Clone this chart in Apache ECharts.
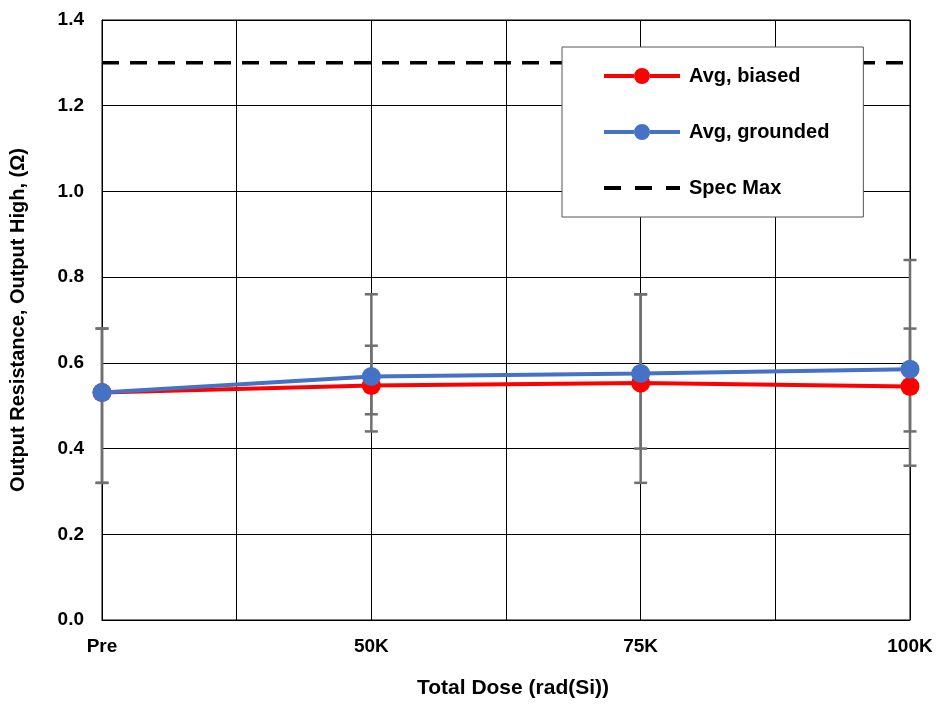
<!DOCTYPE html>
<html>
<head>
<meta charset="utf-8">
<script src="https://cdn.jsdelivr.net/npm/echarts@6/dist/echarts.min.js"></script>
<style>html,body{margin:0;padding:0;background:#fff}#c{width:937px;height:704px}</style>
</head>
<body>
<div id="c"></div>
<script>
const categories = ['Pre', '50K', '75K', '100K'];
const catPos = [0, 2, 4, 6];
const biased = [0.531, 0.547, 0.553, 0.545];
const grounded = [0.531, 0.568, 0.575, 0.585];
const biasedLow = [0.32, 0.44, 0.32, 0.36];
const biasedHigh = [0.68, 0.64, 0.76, 0.84];
const groundedLow = [0.32, 0.48, 0.40, 0.44];
const groundedHigh = [0.68, 0.76, 0.76, 0.68];
const specMax = 1.3;

const font = 'Arial, "Liberation Sans", sans-serif';
const chart = echarts.init(document.getElementById('c'));

function errData(lo, hi) {
  return catPos.map((x, i) => [x, lo[i], hi[i]]);
}
function errRender(params, api) {
  const x = api.value(0);
  const p1 = api.coord([x, api.value(1)]);
  const p2 = api.coord([x, api.value(2)]);
  const w = 6.5;
  const st = { stroke: '#6f6f6f', lineWidth: 2.5 };
  return {
    type: 'group',
    children: [
      { type: 'line', shape: { x1: p1[0], y1: p1[1], x2: p2[0], y2: p2[1] }, style: st },
      { type: 'line', shape: { x1: p1[0] - w, y1: p1[1], x2: p1[0] + w, y2: p1[1] }, style: st },
      { type: 'line', shape: { x1: p2[0] - w, y1: p2[1], x2: p2[0] + w, y2: p2[1] }, style: st }
    ]
  };
}

const lineMarkerIcon = 'path://M0,6h30v4h-30z M46,6h30v4h-30z M30,8 A8,8 0 1,1 46,8 A8,8 0 1,1 30,8 Z';
const dashIcon = 'path://M0,0h0.01v0.01h-0.01z M0,6h17v4h-17z M31,6h17v4h-17z M62,6h14v4h-14z M75.99,15.99h0.01v0.01h-0.01z';

chart.setOption({
  animation: false,
  grid: { left: 102, right: 27, top: 20, bottom: 83, containLabel: false, show: true, borderColor: '#000', borderWidth: 1 },
  xAxis: {
    type: 'value', min: 0, max: 6, interval: 1,
    name: 'Total Dose (rad(Si))', nameLocation: 'middle', nameGap: 58,
    nameTextStyle: { fontFamily: font, fontWeight: 'bold', fontSize: 21, color: '#000', padding: [0, 0, 0, 14] },
    axisLine: { show: true, lineStyle: { color: '#000', width: 1 } },
    axisTick: { show: false },
    axisLabel: {
      margin: 17, fontFamily: font, fontWeight: 'bold', fontSize: 19, color: '#000',
      formatter: v => { const i = catPos.indexOf(v); return i >= 0 ? categories[i] : ''; }
    },
    splitLine: { show: true, lineStyle: { color: '#000', width: 1 } }
  },
  yAxis: {
    type: 'value', min: 0, max: 1.4, interval: 0.2,
    name: 'Output Resistance, Output High, (\u03A9)', nameLocation: 'middle', nameGap: 74,
    nameTextStyle: { fontFamily: font, fontWeight: 'bold', fontSize: 20, color: '#000' },
    axisLine: { show: true, lineStyle: { color: '#000', width: 1 } },
    axisTick: { show: false },
    axisLabel: {
      margin: 18, fontFamily: font, fontWeight: 'bold', fontSize: 19, color: '#000',
      formatter: v => v.toFixed(1)
    },
    splitLine: { show: true, lineStyle: { color: '#000', width: 1 } }
  },
  legend: {
    orient: 'vertical', left: 562, top: 47,
    padding: [19, 34, 19, 42], itemGap: 36,
    itemWidth: 76, itemHeight: 16,
    backgroundColor: '#fff', borderColor: '#555', borderWidth: 1,
    textStyle: { fontFamily: font, fontWeight: 'bold', fontSize: 20, color: '#000', padding: [0, 0, 0, 4] },
    data: [
      { name: 'Avg, biased', icon: lineMarkerIcon },
      { name: 'Avg, grounded', icon: lineMarkerIcon },
      { name: 'Spec Max', icon: dashIcon }
    ]
  },
  series: [
    { type: 'custom', name: 'errB', renderItem: errRender, data: errData(biasedLow, biasedHigh), z: 1, silent: true },
    { type: 'custom', name: 'errG', renderItem: errRender, data: errData(groundedLow, groundedHigh), z: 1, silent: true },
    {
      type: 'line', name: 'Spec Max', data: [[0, specMax], [6, specMax]], symbol: 'none',
      lineStyle: { color: '#000', width: 3.5, type: [17, 11] }, itemStyle: { color: '#000' }, z: 2
    },
    {
      type: 'line', name: 'Avg, biased', data: catPos.map((x, i) => [x, biased[i]]),
      symbol: 'circle', symbolSize: 19, color: '#FF0000',
      lineStyle: { color: '#FF0000', width: 4 }, itemStyle: { color: '#FF0000' }, z: 3
    },
    {
      type: 'line', name: 'Avg, grounded', data: catPos.map((x, i) => [x, grounded[i]]),
      symbol: 'circle', symbolSize: 19, color: '#4472C4',
      lineStyle: { color: '#4472C4', width: 4 }, itemStyle: { color: '#4472C4' }, z: 4
    }
  ]
});
</script>
</body>
</html>
